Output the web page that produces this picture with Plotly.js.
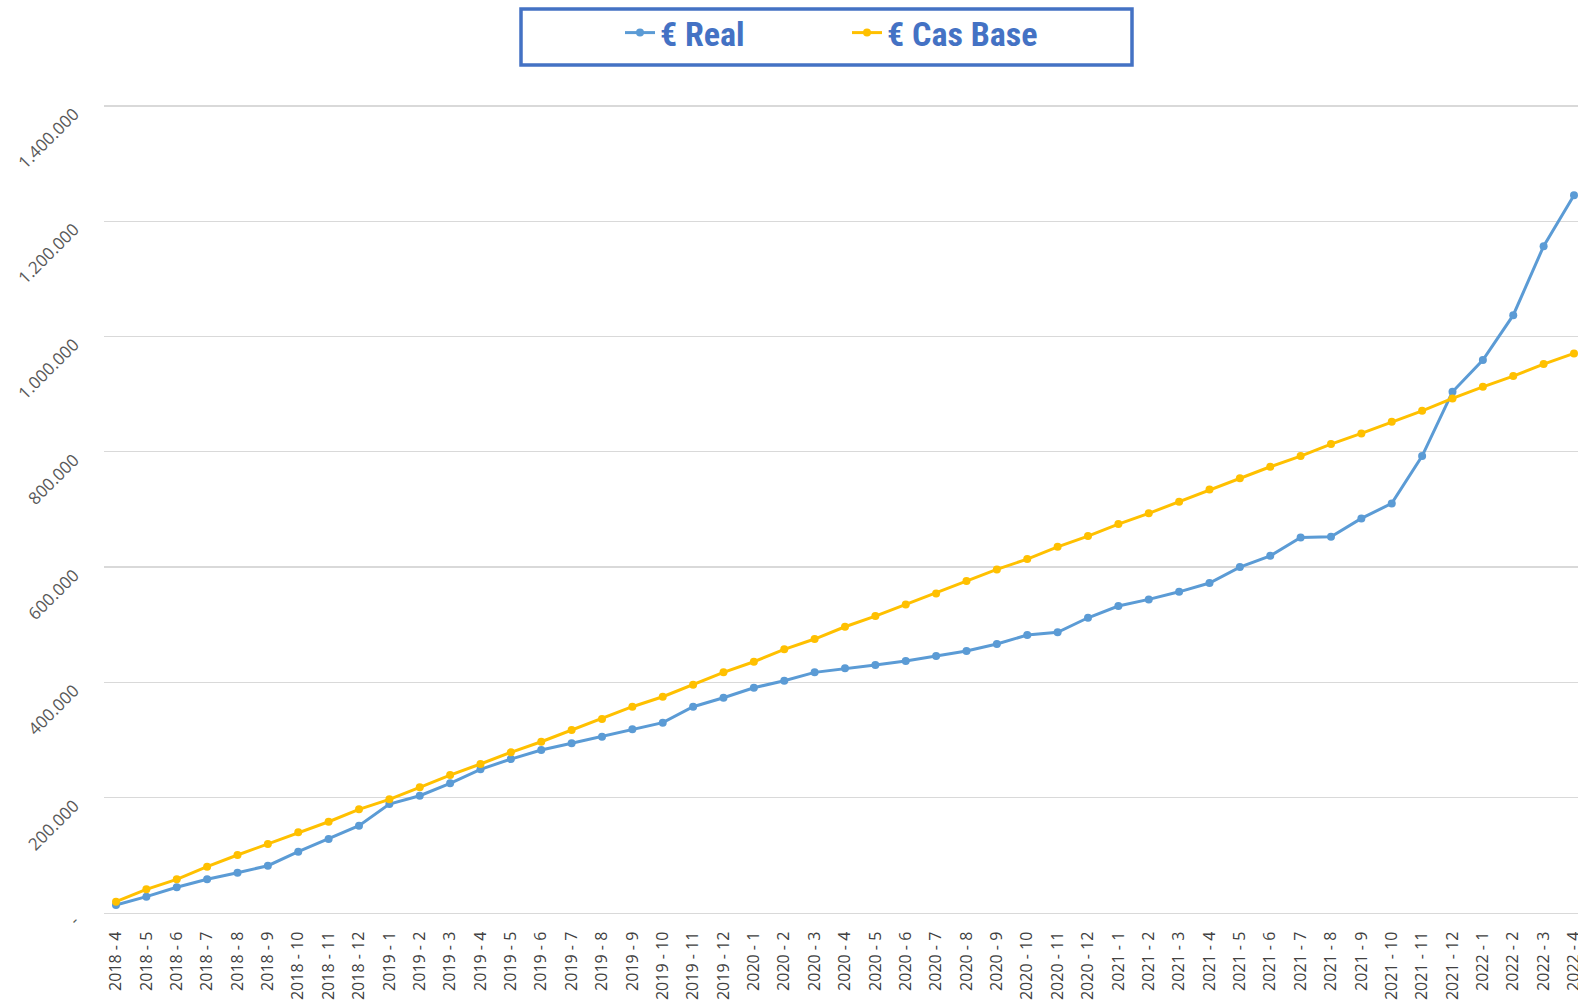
<!DOCTYPE html>
<html>
<head>
<meta charset="utf-8">
<script src="https://cdn.plot.ly/plotly-3.0.1.min.js"></script>
<style>html,body{margin:0;padding:0;background:#fff;}#chart{width:1578px;height:1008px;}</style>
</head>
<body>
<div id="chart"></div>
<script>
const months = [
  "2018 - 4","2018 - 5","2018 - 6","2018 - 7","2018 - 8","2018 - 9","2018 - 10","2018 - 11","2018 - 12",
  "2019 - 1","2019 - 2","2019 - 3","2019 - 4","2019 - 5","2019 - 6","2019 - 7","2019 - 8","2019 - 9","2019 - 10","2019 - 11","2019 - 12",
  "2020 - 1","2020 - 2","2020 - 3","2020 - 4","2020 - 5","2020 - 6","2020 - 7","2020 - 8","2020 - 9","2020 - 10","2020 - 11","2020 - 12",
  "2021 - 1","2021 - 2","2021 - 3","2021 - 4","2021 - 5","2021 - 6","2021 - 7","2021 - 8","2021 - 9","2021 - 10","2021 - 11","2021 - 12",
  "2022 - 1","2022 - 2","2022 - 3","2022 - 4"
];
const realValues = [
  13900, 28300, 44600, 58400, 69900, 82000, 106300, 128300, 151400,
  189000, 203400, 224900, 249200, 267000, 282700, 294300, 305900, 318700, 330200, 357800, 373400,
  390700, 402900, 417400, 424400, 430100, 437000, 445700, 454400, 466500, 482100, 486800, 512100,
  532400, 544000, 557100, 572300, 600000, 619600, 651500, 652600, 684500, 710500, 792500, 904000,
  959000, 1037000, 1156700, 1245000
];
const baseValues = [
  19600, 41100, 58400, 80300, 100600, 119700, 140000, 158300, 179800,
  197200, 218000, 239300, 258400, 278700, 297100, 317400, 336400, 357800, 375100, 396000, 417400,
  435800, 457300, 475200, 496500, 515000, 535300, 554400, 575700, 596000, 613900, 635200, 653800,
  674600, 693200, 713300, 734800, 753900, 774000, 792500, 813300, 831900, 852000, 871100, 892600,
  912700, 931300, 952100, 970600
];
const seriesNames = ["€ Real", "€ Cas Base"];
const yTickVals = [0, 200000, 400000, 600000, 800000, 1000000, 1200000, 1400000];
const yTickText = ["-", "200.000", "400.000", "600.000", "800.000", "1.000.000", "1.200.000", "1.400.000"];

const traces = [
  {
    x: months, y: realValues, name: seriesNames[0], type: "scatter", mode: "lines+markers",
    line: {color: "#5B9BD5", width: 3}, marker: {color: "#5B9BD5", size: 8}
  },
  {
    x: months, y: baseValues, name: seriesNames[1], type: "scatter", mode: "lines+markers",
    line: {color: "#FFC000", width: 3}, marker: {color: "#FFC000", size: 8}
  }
];

const W = 1578, H = 1008, L = 104, T = 103, B = 95;
const pw = W - L, ph = H - T - B;
function px2x(p){ return (p - L) / pw; }
function py2y(p){ return (H - B - p) / ph; }

const layout = {
  width: W, height: H,
  margin: {l: L, r: 0, t: T, b: B, pad: 0},
  paper_bgcolor: "#ffffff", plot_bgcolor: "#ffffff",
  font: {family: "'Open Sans', sans-serif", color: "#595959"},
  showlegend: true,
  legend: {
    orientation: "h", xref: "container", yref: "container",
    x: 620 / W, xanchor: "left", y: 1 - 4 / H, yanchor: "top",
    bgcolor: "rgba(0,0,0,0)", borderwidth: 0,
    entrywidth: 182, entrywidthmode: "pixels",
    font: {family: "'Liberation Sans Narrow', 'Roboto Condensed', 'DejaVu Sans Condensed', Roboto, sans-serif", size: 34, weight: "bold", color: "#4472C4"},
    itemwidth: 30
  },
  shapes: [{
    type: "rect", xref: "paper", yref: "paper",
    x0: px2x(521), x1: px2x(1132), y0: py2y(65), y1: py2y(9),
    line: {color: "#4472C4", width: 3.5}, fillcolor: "rgba(0,0,0,0)", layer: "above"
  }],
  xaxis: {
    type: "category",
    range: [(104 - 116) / 30.375, (1578 - 116) / 30.375],
    tickangle: -90, showgrid: false, zeroline: false,
    showline: true, linecolor: "#d9d9d9", linewidth: 1.3,
    ticks: "", ticklabelstandoff: 11,
    tickfont: {family: "'Open Sans', sans-serif", size: 16, color: "#404040"}
  },
  yaxis: {
    range: [0, 1405000],
    tickmode: "array", tickvals: yTickVals, ticktext: yTickText,
    tickangle: -45, showgrid: true, gridcolor: "#d9d9d9", gridwidth: 1.3,
    zeroline: false, showline: false, ticks: "", ticklabelstandoff: 29, ticklabelshift: 6,
    tickfont: {family: "'Open Sans', sans-serif", size: 17, color: "#595959"}
  }
};

Plotly.newPlot("chart", traces, layout, {displayModeBar: false, staticPlot: true});
</script>
</body>
</html>
